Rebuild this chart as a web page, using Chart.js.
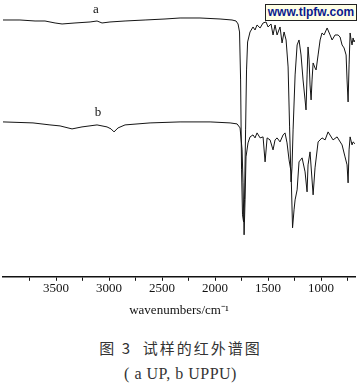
<!DOCTYPE html>
<html>
<head>
<meta charset="utf-8">
<script src="https://cdn.jsdelivr.net/npm/chart.js@4/dist/chart.umd.min.js"></script>
<style>
  html, body { margin: 0; padding: 0; background: #fff; }
  #wrap { position: relative; width: 361px; height: 390px; overflow: hidden; }
  #c { position: absolute; left: 0; top: 0; }
  #wm { position: absolute; left: 265px; top: 4px; width: 92px; height: 17px; box-sizing: border-box;
        border: 1px solid #222; background: #ffffe6; color: #0a1a8c; font: bold 12px "Liberation Sans", Arial, sans-serif;
        line-height: 15px; text-align: center; }
  .cap { position: absolute; left: 0; width: 361px; text-align: center; color: #333; }
  #cap1 { top: 337px; font: 15px "Noto Sans CJK SC", sans-serif; letter-spacing: 2px; }
  #cap2 { top: 365px; font: 16px "Liberation Serif", serif; letter-spacing: 0.5px; }
</style>
</head>
<body>
<div id="wrap">
  <canvas id="c" width="361" height="322"></canvas>
  <div id="wm">www.tlpfw.com</div>
  <div id="cap1" class="cap">图 3&nbsp;&nbsp;试样的红外谱图</div>
  <div id="cap2" class="cap">( a UP, b UPPU)</div>
</div>
<script>
// Wavenumbers (cm-1) and relative transmittance (arbitrary units)
const wnA = [4000,3840,3698,3604,3509,3443,3321,3179,3113,3066,2991,2849,2660,2472,2330,2142,1953,1840,1802,1783,1769,1759,1750,1741,1731,1722,1712,1703,1693,1670,1642,1623,1604,1575,1547,1519,1500,1472,1453,1434,1415,1387,1368,1349,1330,1311,1297,1283,1274,1264,1245,1226,1208,1189,1170,1151,1142,1132,1123,1113,1104,1094,1085,1075,1057,1047,1028,1009,991,972,943,915,896,868,840,821,802,783,764,755,745,736,726,717,708,698,689,679];
const tA  = [257,257,256,256,254,253,254,255,256,254,255,256,257,258,259,259,258,257,256,253,245,197,107,62,55,77,147,207,235,245,250,247,252,249,254,255,250,253,242,252,242,250,234,245,237,210,150,95,110,147,202,232,237,222,197,177,167,202,230,217,192,177,197,214,209,207,222,237,244,242,249,242,237,242,242,240,232,229,222,197,175,212,244,237,232,239,235,237];

const wnB = [4000,3717,3557,3462,3349,3255,3113,3019,2981,2953,2915,2849,2613,2330,2047,1858,1792,1764,1745,1736,1726,1717,1708,1689,1670,1642,1623,1604,1575,1547,1528,1509,1481,1453,1434,1415,1387,1358,1340,1321,1302,1283,1269,1255,1245,1226,1208,1179,1151,1132,1123,1104,1075,1057,1028,991,962,934,887,849,802,774,755,745,736,726,708,698,679];
const tB  = [155,154,152,151,148,150,152,150,148,145,149,152,154,155,155,154,153,149,127,94,42,77,120,134,140,142,139,144,139,140,115,139,137,127,137,139,135,142,144,134,117,105,49,67,77,87,115,119,105,85,112,125,82,109,135,139,137,145,137,140,132,120,112,94,127,140,132,135,133];

const tickValues = [3750,3500,3250,3000,2750,2500,2250,2000,1750,1500,1250,1000,750];
const seriesNames = ['a','b'];
const labelWn = [3123, 3104];
const labelT  = [267, 164];

const toPts = (xs, ys) => xs.map((x, i) => ({x: x, y: ys[i]}));

const curveLabels = {
  id: 'curveLabels',
  afterDatasetsDraw(chart) {
    const {ctx, scales} = chart;
    ctx.save();
    ctx.fillStyle = '#111';
    ctx.font = '13px "Liberation Serif", serif';
    ctx.textAlign = 'center';
    ctx.textBaseline = 'middle';
    seriesNames.forEach((n, i) => {
      ctx.fillText(n, scales.x.getPixelForValue(labelWn[i]), scales.y.getPixelForValue(labelT[i]));
    });
    ctx.restore();
  }
};

new Chart(document.getElementById('c'), {
  type: 'line',
  data: {
    datasets: [
      { label: 'a', data: toPts(wnA, tA), borderColor: '#151515', borderWidth: 1, pointRadius: 0, tension: 0 },
      { label: 'b', data: toPts(wnB, tB), borderColor: '#151515', borderWidth: 1, pointRadius: 0, tension: 0 }
    ]
  },
  options: {
    responsive: false,
    devicePixelRatio: 1,
    animation: false,
    layout: { padding: { left: 3, right: 6, top: 0, bottom: 4 } },
    plugins: { legend: { display: false }, tooltip: { enabled: false } },
    scales: {
      x: {
        type: 'linear',
        reverse: true,
        min: 680,
        max: 4000,
        afterBuildTicks: (s) => { s.ticks = tickValues.map(v => ({value: v})); },
        ticks: {
          autoSkip: false,
          maxRotation: 0,
          padding: 0,
          color: '#111',
          font: { family: '"Liberation Serif", serif', size: 13 },
          callback: (v) => (v % 500 === 0 ? String(v) : '')
        },
        grid: { display: true, drawOnChartArea: false, tickLength: 4, color: '#111', lineWidth: 1 },
        border: { display: true, color: '#111', width: 1.5 },
        title: {
          display: true,
          text: 'wavenumbers/cm\u207B\u00B9',
          color: '#111',
          font: { family: '"Liberation Serif", serif', size: 13 },
          padding: { top: 6, bottom: 0 }
        }
      },
      y: { display: false, min: 0, max: 277 }
    }
  },
  plugins: [curveLabels]
});
</script>
</body>
</html>
